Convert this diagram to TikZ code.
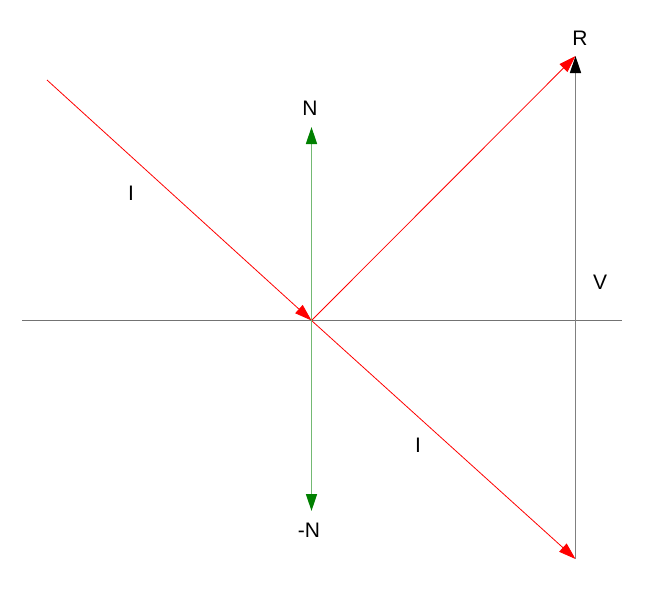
\documentclass[tikz,border=0pt]{standalone}
\usepackage{fontspec}
\setmainfont{Liberation Sans}
\usetikzlibrary{arrows.meta}
\definecolor{normalgreen}{RGB}{0,128,0}
\tikzstyle{ray}=[draw=red, line width=0.8pt, -{Triangle[length=17pt,width=11pt]}]
\tikzstyle{normalvec}=[draw=normalgreen!55, line width=1.5pt, -{Triangle[length=17pt,width=11pt,color=normalgreen]}]
\tikzstyle{label}=[inner sep=0pt, font=\fontsize{21}{24}\selectfont]

\begin{document}
\begin{tikzpicture}[x=1pt, y=-1pt]
\useasboundingbox (0,0) rectangle (650,600);
% points
\coordinate (O) at (311.5,320.5);
\coordinate (A) at (47,80);
\coordinate (Ntop) at (311.5,127);
\coordinate (Nbot) at (311.5,511);
\coordinate (R) at (575.5,56);
\coordinate (B) at (575.5,559);
\coordinate (left) at (22,320.5);
\coordinate (right) at (622,320.5);
% surface
\draw[black!55, line width=1.5pt] (left) -- (right);
% rays
\draw[ray] (A) -- (O);
\draw[ray] (O) -- (R);
\draw[ray] (O) -- (B);
\draw[draw=black!50, line width=1.5pt, -{Triangle[length=17pt,width=11pt,color=black]}] (B) -- (R);
% normals
\draw[normalvec] (O) -- (Ntop);
\draw[normalvec] (O) -- (Nbot);
% labels
\node[label] (lR) at (580,38) {R};
\node[label] (lN) at (310,108) {N};
\node[label] (lmN) at (309,530) {-N};
\node[label] (lI1) at (131,193) {I};
\node[label] (lI2) at (418,445) {I};
\node[label] (lV) at (600,282) {V};
\end{tikzpicture}
\end{document}
